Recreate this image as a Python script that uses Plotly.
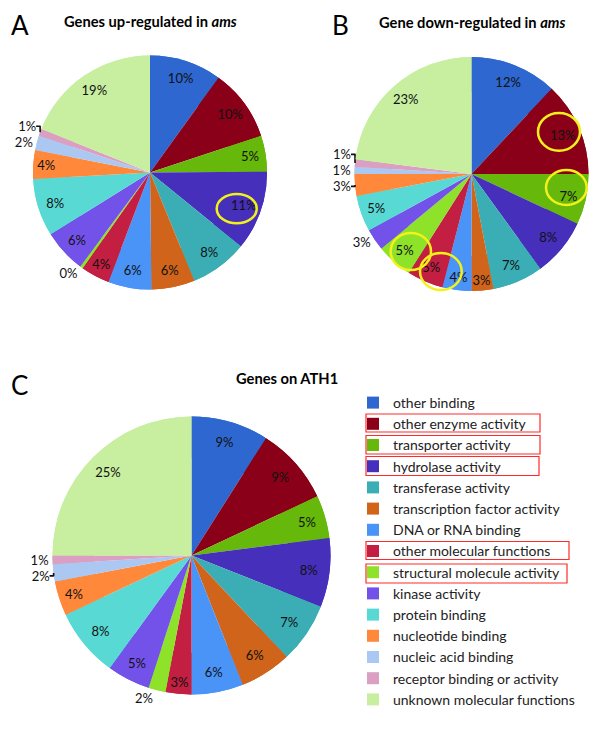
import plotly.graph_objects as go

categories = [
    "other binding", "other enzyme activity", "transporter activity",
    "hydrolase activity", "transferase activity", "transcription factor activity",
    "DNA or RNA binding", "other molecular functions", "structural molecule activity",
    "kinase activity", "protein binding", "nucleotide binding",
    "nucleic acid binding", "receptor binding or activity", "unknown molecular functions",
]
colors = [
    "#2D67CF", "#8A0018", "#66B80A", "#452FBB", "#3BAEB5", "#D0641A",
    "#4A93F7", "#C21F42", "#8EE22A", "#7352EA", "#58D9D4", "#FF883A",
    "#AAC8F1", "#DA9FC1", "#C8EEA0",
]

up_values = [10, 10, 5, 11, 8, 6, 6, 4, 0.4, 6, 8, 4, 2, 1, 19]
down_values = [12, 13, 7, 8, 7, 3, 4, 5, 5, 3, 5, 3, 1, 1, 23]
ath1_values = [9, 9, 5, 8, 7, 6, 6, 3, 2, 5, 8, 4, 2, 1, 25]

up_pos = ["inside"] * 8 + ["outside", "inside", "inside", "inside", "outside", "outside", "inside"]
down_pos = ["inside"] * 9 + ["outside", "inside", "outside", "outside", "outside", "inside"]
ath1_pos = ["inside"] * 8 + ["outside", "inside", "inside", "inside", "outside", "outside", "inside"]

W, H = 600, 733
FONT = "Lato, 'Open Sans', sans-serif"


def dom(cx, cy, r):
    return dict(x=[(cx - r) / W, (cx + r) / W], y=[1 - (cy + r) / H, 1 - (cy - r) / H])


fig = go.Figure()
specs = [
    (up_values, up_pos, dom(150, 172.5, 117), True),
    (down_values, down_pos, dom(471.5, 174, 117), False),
    (ath1_values, ath1_pos, dom(191.5, 555.5, 139), False),
]
for vals, pos, d, show in specs:
    # solid pie underneath
    fig.add_trace(go.Pie(
        labels=categories, values=vals, sort=False, direction="clockwise", rotation=0,
        marker=dict(colors=colors, line=dict(width=0)),
        textinfo="none", domain=d, showlegend=False, hoverinfo="skip",
    ))
    # outer ring on top carries the percentage labels near the rim
    fig.add_trace(go.Pie(
        labels=categories, values=vals, sort=False, direction="clockwise", rotation=0,
        hole=0.7,
        marker=dict(colors=colors, line=dict(width=0)),
        texttemplate="%{value:.0f}%", textposition=pos,
        insidetextorientation="horizontal",
        textfont=dict(family=FONT, size=13, color="#111111"),
        domain=d, showlegend=show, hoverinfo="label+value",
    ))


def px(x, y):
    return x / W, 1 - y / H


annots = []
for txt, x, y, size in [
    ("A", 20, 25, 26), ("B", 340, 25, 26), ("C", 19, 385, 26),
    ("<b>Genes up-regulated in <i>ams</i></b>", 150, 21, 14.7),
    ("<b>Gene down-regulated in <i>ams</i></b>", 472, 22, 14.7),
    ("<b>Genes on ATH1</b>", 287, 378, 14.7),
]:
    ax, ay = px(x, y)
    annots.append(dict(text=txt, x=ax, y=ay, xref="paper", yref="paper",
                       xanchor="center", yanchor="middle", showarrow=False,
                       font=dict(family=FONT, size=size, color="black")))

shapes = []
# yellow highlight ellipses
for x0, y0, x1, y1 in [
    (216.7, 194, 256.7, 223.3),
    (538, 113, 580, 150.7),
    (546, 170, 586.7, 205),
    (390.7, 233, 431, 270),
    (420, 253, 461.7, 290),
]:
    a0, b0 = px(x0, y1)
    a1, b1 = px(x1, y0)
    shapes.append(dict(type="circle", xref="paper", yref="paper", x0=a0, y0=b0, x1=a1, y1=b1,
                       line=dict(color="#F2F21A", width=2.5)))
# red legend boxes
for x0, y0, x1, y1 in [
    (366, 414, 540, 432),
    (366, 435.5, 540, 454),
    (366, 456.5, 539, 475.5),
    (366, 541.5, 569, 559.5),
    (366, 564, 567, 583),
]:
    a0, b0 = px(x0, y1)
    a1, b1 = px(x1, y0)
    shapes.append(dict(type="rect", xref="paper", yref="paper", x0=a0, y0=b0, x1=a1, y1=b1,
                       line=dict(color="#FF2A2A", width=1.2)))

lx, ly = px(353, 387)
fig.update_layout(
    width=W, height=H, margin=dict(l=0, r=0, t=0, b=0),
    paper_bgcolor="white", plot_bgcolor="white",
    annotations=annots, shapes=shapes,
    uniformtext=dict(minsize=13, mode="show"),
    legend=dict(x=lx, y=ly, xanchor="left", yanchor="top",
                font=dict(family=FONT, size=14, color="#222222"),
                bgcolor="rgba(0,0,0,0)", traceorder="normal"),
    font=dict(family=FONT),
)

fig.write_html("out.html", config={"displayModeBar": False},
               post_script="document.body.style.margin='0px';")
